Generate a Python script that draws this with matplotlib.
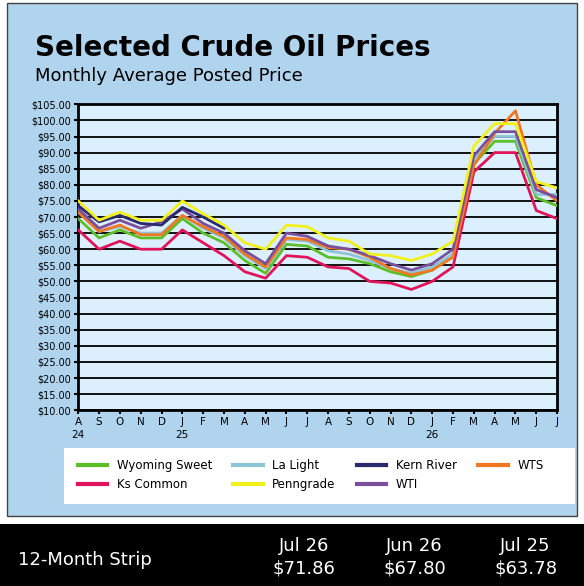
import matplotlib.pyplot as plt
from matplotlib.patches import Rectangle

months = ["A\n24", "S", "O", "N", "D", "J\n25", "F", "M", "A", "M", "J", "J",
          "A", "S", "O", "N", "D", "J\n26", "F", "M", "A", "M", "J", "J"]

wyoming_sweet = [69.5, 63.5, 66, 63.5, 63.5, 69.5, 65, 62, 56.5, 52.5, 61.5, 61,
                 57.5, 57, 55.5, 53, 51.5, 53.5, 58.5, 86.5, 93.5, 93.5, 76, 73.5]
la_light = [71.5, 65.5, 67, 65, 65, 70.5, 66.5, 63.5, 58, 54, 63, 62.5,
            59.5, 58.5, 56.5, 54, 52.5, 54.5, 58.5, 88, 95, 95, 77, 77]
kern_river = [73.5, 68.5, 70.5, 68, 67.5, 73, 70, 66.5]
wts = [71.5, 65.5, 67.5, 64.5, 64.5, 70.5, 67, 64, 58.5, 54.5, 63.5, 63,
       60.5, 60, 57.5, 54, 52, 53.5, 57.5, 86, 96, 103, 80, 75]
ks_common = [66, 60, 62.5, 60, 60, 66, 62, 58, 53, 51, 58, 57.5,
             54.5, 54, 50, 49.5, 47.5, 50, 54.5, 84, 90, 90, 72, 69.5]
penngrade = [75, 69, 71.5, 69, 69, 75, 71, 67.5, 62, 60, 67.5, 67,
             63.5, 62.5, 58.5, 58, 56.5, 58.5, 62.5, 92, 99, 99, 81, 79]
wti = [72.5, 66.5, 69, 66.5, 68.5, 72.5, 68, 65, 59.5, 55.5, 65, 64,
       61, 60, 58, 55.5, 53.5, 55.5, 60, 89, 96.5, 96.5, 78.5, 76]

strip_labels = ["Jul 26", "Jun 26", "Jul 25"]
strip_values = ["$71.86", "$67.80", "$63.78"]

series = [
    ("Wyoming Sweet", wyoming_sweet, "#5cbf2a"),
    ("La Light", la_light, "#8fc3d6"),
    ("Kern River", kern_river, "#2b2a6e"),
    ("WTS", wts, "#f07820"),
    ("Ks Common", ks_common, "#e0145a"),
    ("Penngrade", penngrade, "#f2f01a"),
    ("WTI", wti, "#7a4f9c"),
]
draw_order = ["Ks Common", "Wyoming Sweet", "La Light", "WTS", "WTI", "Kern River", "Penngrade"]

fig = plt.figure(figsize=(5.84, 5.86), dpi=100)
fig.patch.set_facecolor("white")
# blue panel, white legend box and black strip
fig.add_artist(Rectangle((0.012, 0.12), 0.976, 0.875, transform=fig.transFigure,
                         facecolor="#b0d4ee", edgecolor="#444444", lw=1, zorder=-10))
fig.add_artist(Rectangle((0.11, 0.14), 0.875, 0.095, transform=fig.transFigure,
                         facecolor="white", edgecolor="none", zorder=-9))
fig.add_artist(Rectangle((0.0, 0.0), 1.0, 0.105, transform=fig.transFigure,
                         facecolor="black", edgecolor="none", zorder=-10))

fig.text(0.06, 0.905, "Selected Crude Oil Prices", fontsize=20, fontweight="black")
fig.text(0.06, 0.862, "Monthly Average Posted Price", fontsize=13)

ax = fig.add_axes([0.134, 0.30, 0.82, 0.522])
ax.set_facecolor("#dcefff")
x = list(range(len(months)))
lookup = {name: (vals, col) for name, vals, col in series}
for name in draw_order:
    vals, col = lookup[name]
    ax.plot(x[:len(vals)], vals, color=col, lw=2, zorder=3)
ax.set_ylim(10, 105)
ax.set_xlim(0, len(months) - 1)
ax.set_yticks(range(10, 106, 5))
ax.set_yticklabels([f"${v:.2f}" for v in range(10, 106, 5)], fontsize=7)
ax.set_xticks(x)
ax.set_xticklabels(months, fontsize=7.5, linespacing=1.3)
ax.grid(axis="y", color="black", lw=1.3)
ax.tick_params(axis="both", length=3, width=1.5, pad=2)
for s in ax.spines.values():
    s.set_linewidth(2)

# legend fills column-wise, so order entries to read row by row
row1 = series[:4]
row2 = series[4:]
ordered = []
for i in range(4):
    ordered.append(row1[i])
    if i < len(row2):
        ordered.append(row2[i])
handles = [plt.Line2D([], [], color=col, lw=3) for _, _, col in ordered]
fig.legend(handles, [n for n, _, _ in ordered], loc="upper left", ncol=4,
           bbox_to_anchor=(0.115, 0.235), frameon=False, fontsize=8.5,
           handlelength=2.5, columnspacing=1.8, handletextpad=0.8)

fig.text(0.03, 0.035, "12-Month Strip", color="white", fontsize=13)
for i, (lab, val) in enumerate(zip(strip_labels, strip_values)):
    xp = 0.52 + i * 0.19
    fig.text(xp, 0.06, lab, color="white", fontsize=13, ha="center")
    fig.text(xp, 0.022, val, color="white", fontsize=13, ha="center")

fig.savefig("out.png", dpi=100, facecolor="white")
